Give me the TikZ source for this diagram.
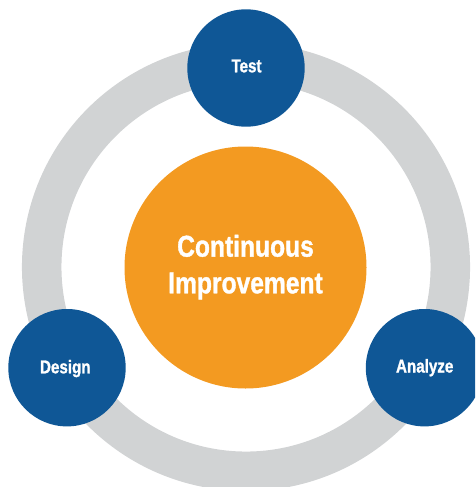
\documentclass[tikz,border=0pt]{standalone}
\usepackage{fontspec}
\newfontfamily\condsans[FakeStretch=0.82,BoldFeatures={FakeBold=1.2}]{Liberation Sans}
\definecolor{ringgrey}{HTML}{D1D3D4}
\definecolor{stepblue}{HTML}{0F5796}
\definecolor{coreorange}{HTML}{F39A21}
\begin{document}
\begin{tikzpicture}[x=1pt,y=-1pt,
  stage/.style={circle,fill=stepblue,minimum size=117.4pt,inner sep=0pt},
  stagelabel/.style={text=white,anchor=base,inner sep=0pt,
    font=\condsans\bfseries\fontsize{18.5}{22}\selectfont},
  core/.style={circle,fill=coreorange,minimum size=242pt,inner sep=0pt},
  corelabel/.style={text=white,align=center,inner sep=0pt,
    font=\condsans\bfseries\fontsize{30}{36.7}\selectfont}]
  \useasboundingbox (0,0) rectangle (475,487);
  \clip (0,0) rectangle (475,487);
  % grey cycle ring
  \coordinate (hub) at (246,267);
  \draw[ringgrey,line width=39.5pt] (hub) circle[radius=204.3];
  % central circle
  \node[core] (ci) at (245.5,267.5) {};
  \node[corelabel] (citext) at (245.5,267.2) {Continuous\\Improvement};
  % stage circles on the ring
  \node[stage] (test) at (246,68) {};
  \node[stage] (design) at (67,367.7) {};
  \node[stage] (analyze) at (424.5,367.7) {};
  \node[stagelabel] (testtext) at (246.5,72.3) {Test};
  \node[stagelabel] (designtext) at (65.3,373.3) {Design};
  \node[stagelabel] (analyzetext) at (424.7,372.5) {Analyze};
\end{tikzpicture}
\end{document}
